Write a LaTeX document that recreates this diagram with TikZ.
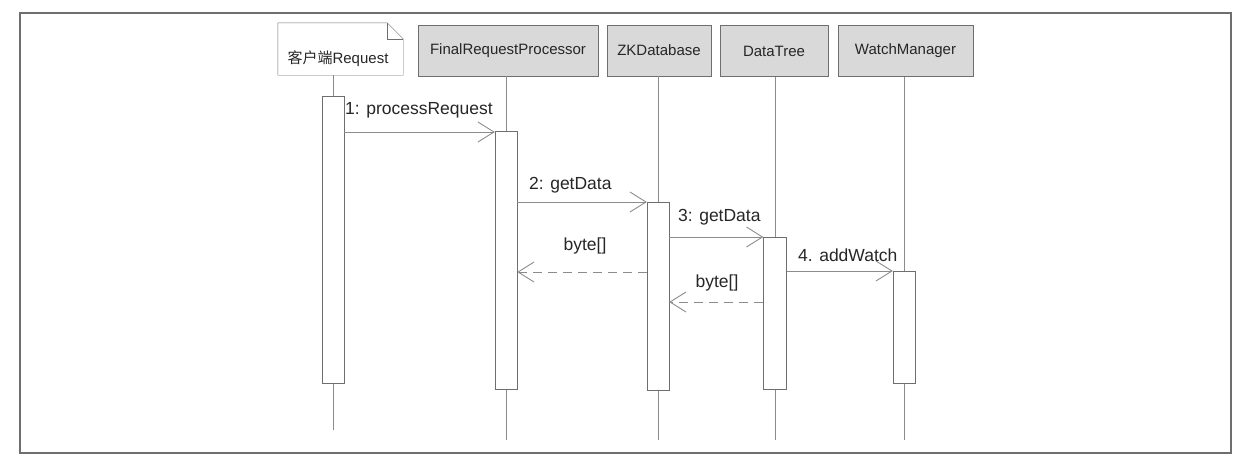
\documentclass[tikz,border=0pt]{standalone}
\usepackage{fontspec}
\setmainfont{Liberation Sans}
\newfontfamily\cjk{Noto Sans CJK SC}
\usetikzlibrary{arrows.meta, positioning, calc}
\definecolor{linegray}{HTML}{8C8C8C}
\definecolor{boxgray}{HTML}{D9D9D9}
\definecolor{edgegray}{HTML}{6E6E6E}
\definecolor{textgray}{HTML}{262626}

\begin{document}
\begin{tikzpicture}[x=1pt, y=-1pt, every node/.style={text=textgray},
  head/.style={draw=edgegray, fill=boxgray, rectangle, minimum height=51pt, inner sep=2pt, font=\fontsize{15}{17}\selectfont},
  bar/.style={draw=edgegray, fill=white, rectangle, minimum width=22pt, inner sep=0pt},
  life/.style={draw=linegray, line width=0.8pt},
  msg/.style={draw=linegray, line width=0.9pt, -{Straight Barb[length=16pt, width=20pt, line width=0.9pt]}},
  ret/.style={msg, dash pattern=on 9pt off 6pt},
  lbl/.style={inner sep=1pt, font=\fontsize{17.5}{19}\selectfont}]
\useasboundingbox (0,0) rectangle (1252,472);
\draw[edgegray, line width=1.1pt] (20,13) rectangle (1231,453);

% object headers
\node (chead) [minimum width=125pt, minimum height=52pt, inner sep=0pt] at (340.5,49) {};
\draw[edgegray] (chead.south west) -- (chead.north west) -- ([xshift=-16pt]chead.north east)
  -- ([yshift=-16pt]chead.north east) -- (chead.south east) -- cycle;
\draw[edgegray] ([xshift=-16pt]chead.north east) |- ([yshift=-16pt]chead.north east);
\node (ctext) [inner sep=1pt, font=\fontsize{15}{17}\selectfont] at (338,59) {{\cjk 客户端}Request};
\node (fhead) [head, minimum width=180pt] at (508,50.5) {FinalRequestProcessor};
\node (zhead) [head, minimum width=104pt] at (659,50.5) {ZKDatabase};
\node (dhead) [head, minimum width=108pt] at (774,51) {DataTree};
\node (whead) [head, minimum width=135pt] at (905.5,51) {WatchManager};

% lifelines
\coordinate (cend) at (333,430);
\coordinate (fend) at (506,440);
\coordinate (zend) at (658,440);
\coordinate (dend) at (775,440);
\coordinate (wend) at (904,440);
\draw[life] (cend |- chead.south) -- (cend);
\draw[life] (fend |- fhead.south) -- (fend);
\draw[life] (zend |- zhead.south) -- (zend);
\draw[life] (dend |- dhead.south) -- (dend);
\draw[life] (wend |- whead.south) -- (wend);

% activation bars
\node (cbar) [bar, minimum height=287pt] at (333,239.5) {};
\node (fbar) [bar, minimum height=258pt] at (506,260) {};
\node (zbar) [bar, minimum height=188pt] at (658,296) {};
\node (dbar) [bar, minimum height=152pt, minimum width=23pt] at (775,313) {};
\node (wbar) [bar, minimum height=112pt] at (904,327) {};

% messages
\draw[msg] (cbar.east |- 0,132) -- (fbar.west |- 0,132);
\draw[msg] (fbar.east |- 0,202) -- (zbar.west |- 0,202);
\draw[msg] (zbar.east |- 0,237) -- (dbar.west |- 0,237);
\draw[ret] (zbar.west |- 0,272) -- (fbar.east |- 0,272);
\draw[msg] (dbar.east |- 0,271) -- (wbar.west |- 0,271);
\draw[ret] (dbar.west |- 0,302) -- (zbar.east |- 0,302);

\node (m1) [lbl, anchor=west] at (344,110) {1: processRequest};
\node (m2) [lbl, anchor=west] at (528,185) {2: getData};
\node (m3) [lbl, anchor=west] at (677,217) {3: getData};
\node (m4) [lbl, anchor=west] at (797,255) {4. addWatch};
\node (r1) [lbl] at (585,246) {byte[]};
\node (r2) [lbl] at (717,283) {byte[]};
\end{tikzpicture}
\end{document}
